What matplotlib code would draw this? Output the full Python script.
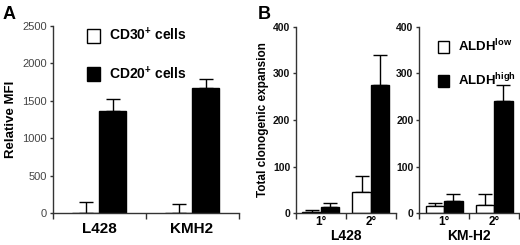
import matplotlib
matplotlib.use('Agg')
import matplotlib.pyplot as plt
import numpy as np
from matplotlib.patches import Patch

plt.rcParams['font.family'] = ['Liberation Sans', 'DejaVu Sans']
plt.rcParams['mathtext.fontset'] = 'custom'
plt.rcParams['mathtext.rm'] = 'Liberation Sans'
plt.rcParams['mathtext.bf'] = 'Liberation Sans:bold'

# Panel A data
a_groups = ['L428', 'KMH2']
cd30 = [0, 0]
cd30_err = [150, 125]
cd20 = [1360, 1670]
cd20_err = [165, 120]

# Panel B data
b_cats = ['1°', '2°']
l428_low = [3, 45]
l428_low_err = [4, 36]
l428_high = [14, 276]
l428_high_err = [9, 64]
kmh2_low = [15, 18]
kmh2_low_err = [8, 23]
kmh2_high = [27, 241]
kmh2_high_err = [14, 34]

AX = '#333333'

fig = plt.figure(figsize=(5.2, 2.45), dpi=100)
axA = fig.add_axes([0.101, 0.1294, 0.3577, 0.7645])
axB1 = fig.add_axes([0.569, 0.1294, 0.1925, 0.7613])
axB2 = fig.add_axes([0.8058, 0.1294, 0.1923, 0.7613])


def style(ax, ymax, step, bold_ticks):
    for s in ['top', 'right']:
        ax.spines[s].set_visible(False)
    for s in ['left', 'bottom']:
        ax.spines[s].set_color(AX)
        ax.spines[s].set_linewidth(1.0)
    ax.set_ylim(0, ymax)
    ax.set_xlim(-0.5, 1.5)
    ax.set_yticks(np.arange(0, ymax + 1, step))
    ax.set_xticks([-0.5, 0.5, 1.5], minor=True)
    ax.tick_params(axis='x', which='minor', length=4, width=1.0, color=AX)
    ax.tick_params(axis='x', which='major', length=0, pad=6)
    ax.tick_params(axis='y', length=2.5, width=1.0, color=AX, pad=1.5)
    for lab in ax.get_yticklabels():
        if bold_ticks:
            lab.set_fontweight('bold')
            lab.set_fontsize(7.5)
            lab.set_color('#111111')
        else:
            lab.set_fontsize(8)
            lab.set_color('#444444')


def bars(ax, x, vals, errs, width, face):
    ax.bar(x, vals, width, color=face, edgecolor='black', linewidth=1.0, zorder=2)
    ax.errorbar(x, vals, yerr=[np.zeros(len(vals)), errs], fmt='none',
                ecolor='black', elinewidth=1.0, capsize=5, capthick=1.0, zorder=1)


# ---- Panel A
xa = np.arange(len(a_groups))
wa = 0.29
bars(axA, xa - wa / 2, cd30, cd30_err, wa, 'white')
bars(axA, xa + wa / 2, cd20, cd20_err, wa, 'black')
style(axA, 2500, 500, False)
axA.set_xticks(xa)
axA.set_xticklabels(a_groups, fontsize=11, fontweight='bold')
axA.set_ylabel('Relative MFI', fontsize=9.5, fontweight='bold', labelpad=4)
legA = axA.legend(handles=[Patch(facecolor='white', edgecolor='black', label='CD30$^{\\mathbf{+}}$ cells'),
                           Patch(facecolor='black', edgecolor='black', label='CD20$^{\\mathbf{+}}$ cells')],
                  loc='upper left', bbox_to_anchor=(0.15, 1.035), frameon=False,
                  prop={'weight': 'bold', 'size': 10}, handlelength=0.9, handleheight=1.1,
                  handletextpad=0.65, labelspacing=1.5, borderpad=0)

# ---- Panel B
xb = np.arange(len(b_cats))
wb = 0.37
for ax, low, lowe, high, highe, name in [
        (axB1, l428_low, l428_low_err, l428_high, l428_high_err, 'L428'),
        (axB2, kmh2_low, kmh2_low_err, kmh2_high, kmh2_high_err, 'KM-H2')]:
    bars(ax, xb - wb / 2, low, lowe, wb, 'white')
    bars(ax, xb + wb / 2, high, highe, wb, 'black')
    style(ax, 400, 100, True)
    ax.set_xticks(xb)
    ax.set_xticklabels(b_cats, fontsize=8.5, fontweight='bold')
    ax.tick_params(axis='x', which='major', pad=2)
    ax.set_xlabel(name, fontsize=10, fontweight='bold', labelpad=1)

axB1.set_ylabel('Total clonogenic expansion', fontsize=8.5, fontweight='bold', labelpad=3)
axB2.legend(handles=[Patch(facecolor='white', edgecolor='black', label='ALDH$^{\\mathbf{low}}$'),
                     Patch(facecolor='black', edgecolor='black', label='ALDH$^{\\mathbf{high}}$')],
            loc='upper left', bbox_to_anchor=(0.12, 0.975), frameon=False,
            prop={'weight': 'bold', 'size': 9.5}, handlelength=0.9, handleheight=1.1,
            handletextpad=0.65, labelspacing=1.3, borderpad=0)

fig.text(0.004, 0.975, 'A', fontsize=13, fontweight='bold', va='top', ha='left')
fig.text(0.495, 0.975, 'B', fontsize=13, fontweight='bold', va='top', ha='left')

fig.savefig('out.png', dpi=100)
